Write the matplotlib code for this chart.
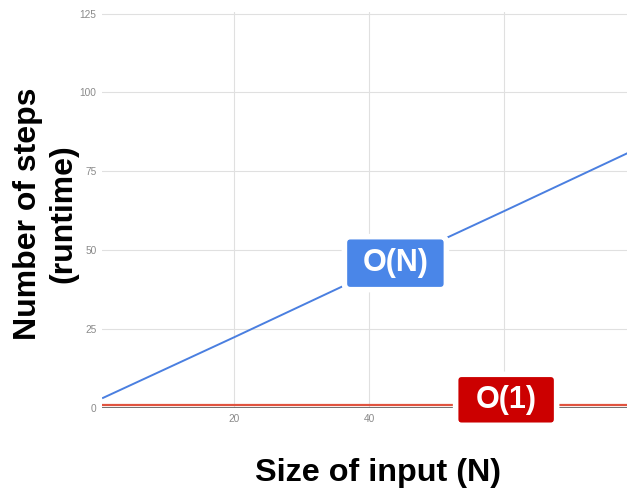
import matplotlib
matplotlib.use("Agg")
import matplotlib.pyplot as plt
from matplotlib.patches import FancyBboxPatch
from matplotlib.transforms import ScaledTranslation

# data
on_x = [0.6, 20, 40, 60, 80]
on_y = [3.2, 22.4, 42.5, 62.4, 82.5]
o1_x = [0.45, 80]
o1_y = [1, 1]
x_ticks = [20, 40, 60]
y_ticks = [0, 25, 50, 75, 100, 125]
label_on = "O(N)"
label_o1 = "O(1)"
label_on_pos = (43.9, 45.9)
label_o1_pos = (60.3, 2.6)

plt.rcParams['font.family'] = ['Liberation Sans', 'DejaVu Sans']

fig = plt.figure(figsize=(6.27, 4.91), dpi=100)
ax = fig.add_axes([102/627, 83/491, 1 - 102/627, (408 - 12)/491])
ax.set_xlim(0.45, 78.2)
ax.set_ylim(0, 125.5)

ax.set_xticks(x_ticks)
ax.set_yticks(y_ticks)
ax.grid(True, color='#e0e0e0', lw=0.8, zorder=0)
ax.tick_params(length=0, labelsize=7.3, colors='#8a8a8a', pad=4)
for s in ax.spines.values():
    s.set_visible(False)
ax.axhline(0, color='#666666', lw=1.3, zorder=2)

ax.plot(on_x, on_y, color='#4a7fe0', lw=1.4, zorder=3, clip_on=True)
ax.plot(o1_x, o1_y, color='#e0533f', lw=1.6, zorder=3)

def box(label, pos, color, w, h):
    trans = fig.dpi_scale_trans + ScaledTranslation(pos[0], pos[1], ax.transData)
    p = FancyBboxPatch((-w/2, -h/2), w, h, boxstyle="round,pad=0,rounding_size=0.06",
                       facecolor=color, edgecolor='white', lw=4, transform=trans,
                       zorder=5, clip_on=False)
    ax.add_patch(p)
    ax.text(pos[0], pos[1], label, color='white', fontsize=22, fontweight='bold',
            ha='center', va='center', zorder=6)

box(label_on, label_on_pos, '#4a86e8', 1.02, 0.53)
box(label_o1, label_o1_pos, '#cc0000', 1.01, 0.51)

fig.text(378/627, 1 - 473/491, "Size of input (N)", fontsize=23.3, fontweight='bold',
         ha='center', va='center')
fig.text(46/627, 1 - 214/491, "Number of steps\n(runtime)", fontsize=23, fontweight='bold',
         ha='center', va='center', rotation=90, linespacing=1.25)

fig.savefig("out.png", dpi=100)
